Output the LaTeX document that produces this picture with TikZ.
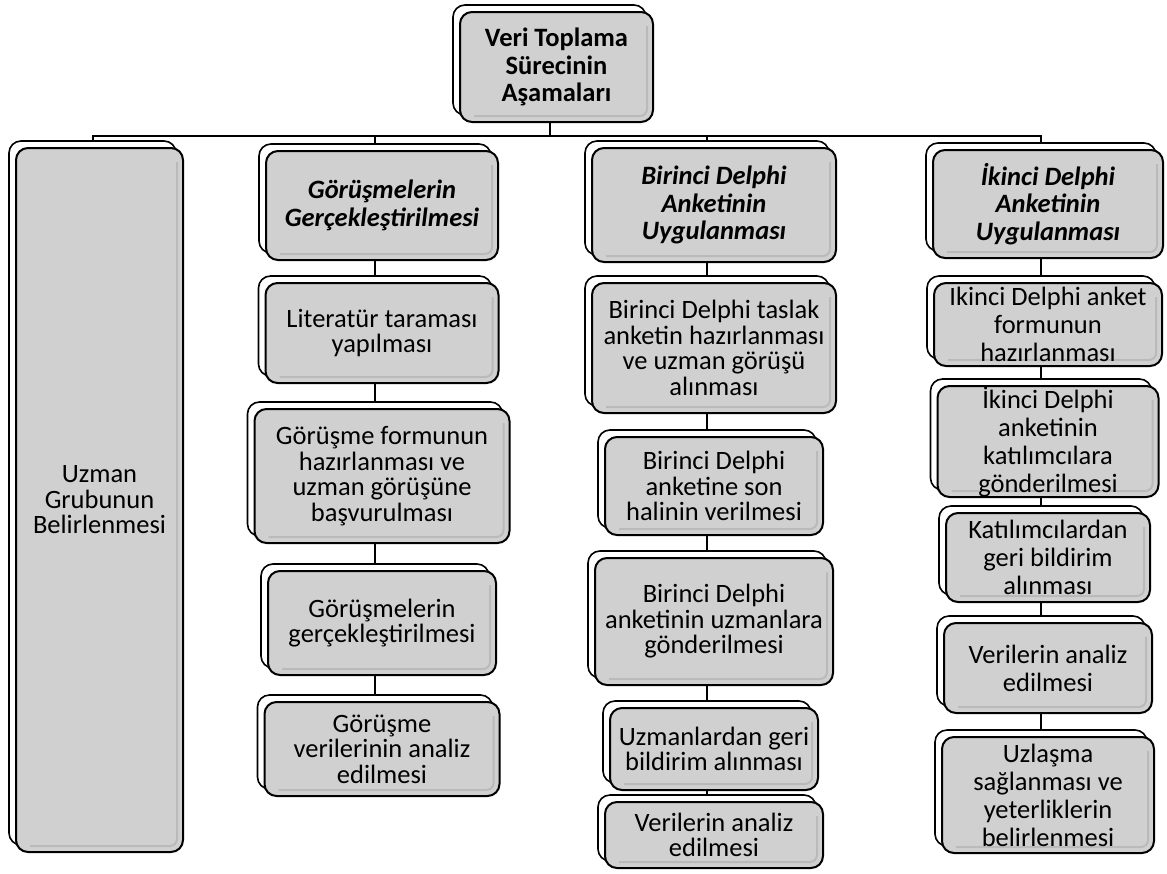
\documentclass[tikz,border=0pt]{standalone}
\usepackage{fontspec}
\setmainfont{Carlito}
\usetikzlibrary{shadows,backgrounds}
\definecolor{boxgray}{RGB}{208,208,208}
\definecolor{bevelgray}{RGB}{186,186,186}

\begin{document}
\begin{tikzpicture}[x=1pt,y=-1pt,
  box/.style={draw=black, line width=2pt, fill=boxgray, rounded corners=12pt,
    align=center, inner sep=0pt, font=\fontsize{26.5}{25.5}\selectfont,
    copy shadow={shadow xshift=-7pt, shadow yshift=7pt, fill=white, draw=black, line width=1.6pt},
    path picture={\draw[bevelgray, line width=2pt, rounded corners=7pt]
      ([xshift=-6pt,yshift=-14pt]path picture bounding box.north east)
      -- ([xshift=-6pt,yshift=6pt]path picture bounding box.south east)
      -- ([xshift=14pt,yshift=6pt]path picture bounding box.south west);}},
  wide/.style={box, font=\fontsize{26.5}{28}\selectfont},
  head/.style={box, font=\fontsize{26.5}{27.5}\selectfont\bfseries\itshape},
  link/.style={line width=2pt}]
  \useasboundingbox (0,0) rectangle (1167,873);
  % Top box
  \node[head, font=\fontsize{26.5}{27.5}\selectfont\bfseries, minimum width=193pt, minimum height=110pt]
    (top) at (556.5,67) {Veri Toplama\\Sürecinin\\Aşamaları};
  % Column 1
  \node[box, minimum width=167pt, minimum height=704pt] (uzman) at (99.5,500) {Uzman\\Grubunun\\Belirlenmesi};
  % Column 2
  \node[head, minimum width=232pt, minimum height=109pt] (gorh) at (382,205.5) {Görüşmelerin\\Gerçekleştirilmesi};
  \node[box, minimum width=233pt, minimum height=100pt] (gora) at (382,333) {Literatür taraması\\yapılması};
  \node[box, minimum width=255pt, minimum height=134pt] (gorb) at (382,476) {Görüşme formunun\\hazırlanması ve\\uzman görüşüne\\başvurulması};
  \node[box, minimum width=228pt, minimum height=104pt] (gorc) at (382,623) {Görüşmelerin\\gerçekleştirilmesi};
  \node[box, minimum width=235pt, minimum height=94pt] (gord) at (382,749) {Görüşme\\verilerinin analiz\\edilmesi};
  % Column 3
  \node[head, minimum width=244pt, minimum height=114pt] (birh) at (714,205) {Birinci Delphi\\Anketinin\\Uygulanması};
  \node[box, minimum width=244pt, minimum height=130pt] (bira) at (714,348) {Birinci Delphi taslak\\anketin hazırlanması\\ve uzman görüşü\\alınması};
  \node[box, minimum width=218pt, minimum height=98pt] (birb) at (714,486) {Birinci Delphi\\anketine son\\halinin verilmesi};
  \node[box, minimum width=238pt, minimum height=127pt] (birc) at (714,621.5) {Birinci Delphi\\anketinin uzmanlara\\gönderilmesi};
  \node[box, minimum width=208pt, minimum height=82pt] (bird) at (714,749) {Uzmanlardan geri\\bildirim alınması};
  \node[box, minimum width=218pt, minimum height=66pt] (bire) at (714,835) {Verilerin analiz\\edilmesi};
  % Column 4
  \node[head, minimum width=230pt, minimum height=108pt] (ikih) at (1048,204) {İkinci Delphi\\Anketinin\\Uygulanması};
  \node[wide, minimum width=228pt, minimum height=83pt] (ikia) at (1048,324.5) {Ikinci Delphi anket\\formunun\\hazırlanması};
  \node[wide, minimum width=221pt, minimum height=111pt] (ikib) at (1048,441.5) {İkinci Delphi\\anketinin\\katılımcılara\\gönderilmesi};
  \node[wide, minimum width=204pt, minimum height=89pt] (ikic) at (1048,557.5) {Katılımcılardan\\geri bildirim\\alınması};
  \node[wide, minimum width=208pt, minimum height=90pt] (ikid) at (1048,668) {Verilerin analiz\\edilmesi};
  \node[wide, minimum width=212pt, minimum height=116pt] (ikie) at (1048,795) {Uzlaşma\\sağlanması ve\\yeterliklerin\\belirlenmesi};
  % Connectors, run to the back copies
  \begin{scope}[on background layer]
    \draw[link] ([xshift=-7pt]top.south) -- ++(0,13) -| ([xshift=-7pt]uzman.north);
    \draw[link] ([xshift=-7pt]top.south) -- ++(0,13) -| ([xshift=-7pt]gorh.north);
    \draw[link] ([xshift=-7pt]top.south) -- ++(0,13) -| ([xshift=-7pt]birh.north);
    \draw[link] ([xshift=-7pt]top.south) -- ++(0,13) -| ([xshift=-7pt]ikih.north);
    \draw[link] ([xshift=-7pt]gorh.south) -- ([xshift=-7pt]gora.north);
    \draw[link] ([xshift=-7pt]gora.south) -- ([xshift=-7pt]gorb.north);
    \draw[link] ([xshift=-7pt]gorb.south) -- ([xshift=-7pt]gorc.north);
    \draw[link] ([xshift=-7pt]gorc.south) -- ([xshift=-7pt]gord.north);
    \draw[link] ([xshift=-7pt]birh.south) -- ([xshift=-7pt]bira.north);
    \draw[link] ([xshift=-7pt]bira.south) -- ([xshift=-7pt]birb.north);
    \draw[link] ([xshift=-7pt]birb.south) -- ([xshift=-7pt]birc.north);
    \draw[link] ([xshift=-7pt]birc.south) -- ([xshift=-7pt]bird.north);
    \draw[link] ([xshift=-7pt]bird.south) -- ([xshift=-7pt]bire.north);
    \draw[link] ([xshift=-7pt]ikih.south) -- ([xshift=-7pt]ikia.north);
    \draw[link] ([xshift=-7pt]ikia.south) -- ([xshift=-7pt]ikib.north);
    \draw[link] ([xshift=-7pt]ikib.south) -- ([xshift=-7pt]ikic.north);
    \draw[link] ([xshift=-7pt]ikic.south) -- ([xshift=-7pt]ikid.north);
    \draw[link] ([xshift=-7pt]ikid.south) -- ([xshift=-7pt]ikie.north);
  \end{scope}
\end{tikzpicture}
\end{document}
